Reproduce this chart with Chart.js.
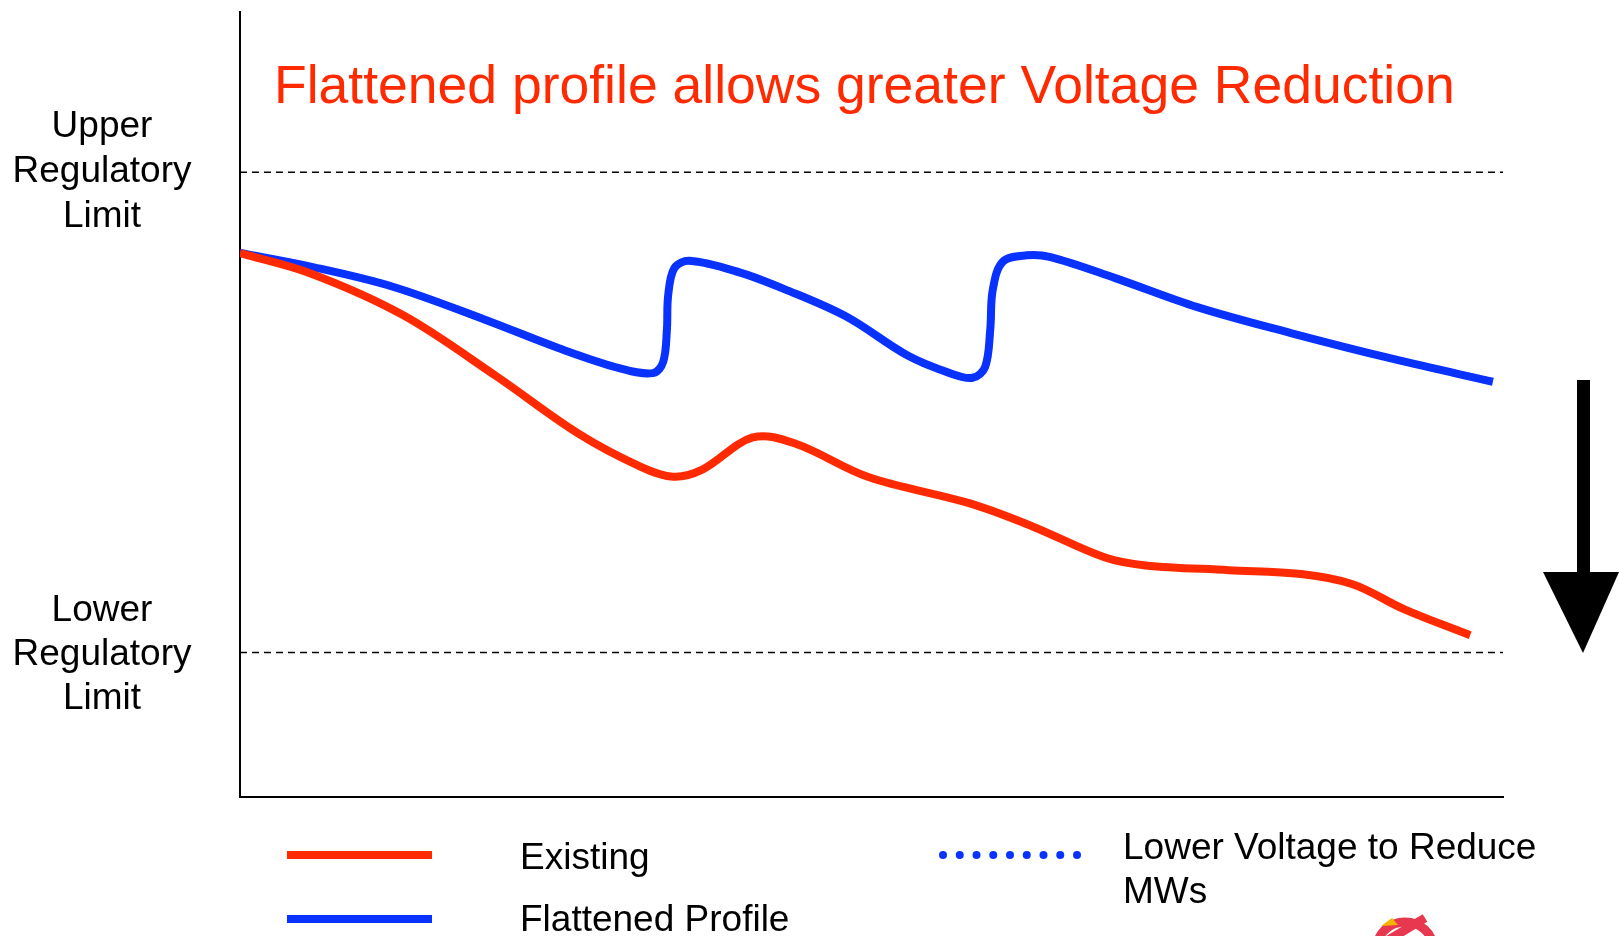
<!DOCTYPE html>
<html>
<head>
<meta charset="utf-8">
<script src="https://cdn.jsdelivr.net/npm/chart.js@4/dist/chart.umd.min.js"></script>
<style>
    html, body { margin: 0; padding: 0; background: #fff; }
    #wrap { width: 1619px; height: 936px; position: relative; }
</style>
</head>
<body>
<div id="wrap"><canvas id="perfilChart"></canvas></div>
<script>
        // ── Dados (posição ao longo do alimentador 0–100, tensão relativa 0–100) ──
        const existenteX = [0, 5.6, 12.9, 20.3, 26.8, 31.7, 34.3, 36.6, 40.6, 44.0, 49.7, 57.8, 62.7, 68.5, 71.7, 78.3, 84.0, 88.1, 92.2, 97.4];
        const existenteY = [69.3, 66.7, 61.4, 53.6, 46.3, 42.1, 40.8, 41.7, 45.8, 45.0, 40.8, 37.4, 34.5, 30.5, 29.5, 28.9, 28.4, 27.1, 23.9, 20.6];

        const planoX = [0, 5.5, 12.1, 19.4, 25.2, 30.1, 32.7, 33.5, 33.8, 33.9, 34.4, 35.6, 39.6, 43.1, 48.0, 52.9, 56.2, 58.0, 59.0, 59.4, 59.6, 60.4, 62.3, 64.1, 69.3, 75.8, 83.2, 91.3, 99.2];
        const planoY = [69.3, 67.6, 65.0, 60.8, 57.2, 54.6, 54.0, 55.4, 59.5, 63.9, 67.4, 68.3, 66.8, 64.7, 61.2, 56.2, 54.0, 53.4, 54.8, 59.5, 64.6, 68.2, 69.0, 68.8, 66.1, 62.4, 59.1, 55.8, 52.9];

        const limiteSuperior = 79.6;
        const limiteInferior = 18.4;

        const titulo = 'Flattened profile allows greater Voltage Reduction';
        const rotuloSuperior = ['Upper', 'Regulatory', 'Limit'];
        const rotuloInferior = ['Lower', 'Regulatory', 'Limit'];
        const legendaTextos = ['Existing', 'Flattened Profile', ['Lower Voltage to Reduce', 'MWs']];

        const VERMELHO = '#ff2a00';
        const AZUL = '#0a32ff';
        const FONTE = '"Liberation Sans", Arial, sans-serif';

        const pontos = (xs, ys) => xs.map((x, i) => ({ x, y: ys[i] }));

        // ── Textos, legenda e seta desenhados por cima ──
        const extras = {
            id: 'extras',
            afterDraw(chart) {
                const ctx = chart.ctx;
                ctx.save();

                // título
                ctx.fillStyle = VERMELHO;
                ctx.font = '53.5px ' + FONTE;
                ctx.textAlign = 'left';
                ctx.textBaseline = 'alphabetic';
                ctx.fillText(titulo, 274, 103);

                // rótulos dos limites
                ctx.fillStyle = '#000';
                ctx.font = '37px ' + FONTE;
                ctx.textAlign = 'center';
                [137, 182, 227].forEach((y, i) => ctx.fillText(rotuloSuperior[i], 102, y));
                [621, 665, 709].forEach((y, i) => ctx.fillText(rotuloInferior[i], 102, y));

                // legenda
                ctx.lineCap = 'butt';
                ctx.lineWidth = 8;
                ctx.strokeStyle = VERMELHO;
                ctx.beginPath(); ctx.moveTo(287, 855); ctx.lineTo(432, 855); ctx.stroke();
                ctx.strokeStyle = AZUL;
                ctx.beginPath(); ctx.moveTo(287, 919); ctx.lineTo(432, 919); ctx.stroke();
                ctx.fillStyle = AZUL;
                for (let i = 0; i < 9; i++) {
                    ctx.beginPath();
                    ctx.arc(943 + i * 16.75, 855, 4, 0, Math.PI * 2);
                    ctx.fill();
                }
                ctx.fillStyle = '#000';
                ctx.textAlign = 'left';
                ctx.fillText(legendaTextos[0], 520, 869);
                ctx.fillText(legendaTextos[1], 520, 931);
                ctx.fillText(legendaTextos[2][0], 1123, 859);
                ctx.fillText(legendaTextos[2][1], 1123, 903);

                // seta para baixo
                ctx.fillStyle = '#000';
                ctx.fillRect(1577, 380, 13, 195);
                ctx.beginPath();
                ctx.moveTo(1543, 572);
                ctx.lineTo(1619, 572);
                ctx.lineTo(1583, 653);
                ctx.closePath();
                ctx.fill();

                // pedaço do logotipo cortado no rodapé
                ctx.strokeStyle = '#e8384f';
                ctx.lineWidth = 9;
                ctx.beginPath();
                ctx.ellipse(1405, 948, 28, 26, 0, Math.PI, Math.PI * 2);
                ctx.stroke();
                ctx.beginPath();
                ctx.moveTo(1380, 945); ctx.lineTo(1425, 918);
                ctx.stroke();
                ctx.fillStyle = '#f7b500';
                ctx.beginPath();
                ctx.moveTo(1381, 926); ctx.lineTo(1392, 918); ctx.lineTo(1398, 925); ctx.closePath();
                ctx.fill();

                ctx.restore();
            }
        };

        // ── Gráfico ──
        new Chart(document.getElementById('perfilChart'), {
            type: 'line',
            data: {
                datasets: [
                    {
                        label: 'Upper Regulatory Limit',
                        data: [{ x: 0, y: limiteSuperior }, { x: 100, y: limiteSuperior }],
                        borderColor: '#000', borderWidth: 1.5, borderDash: [7, 5], pointRadius: 0, tension: 0
                    },
                    {
                        label: 'Lower Regulatory Limit',
                        data: [{ x: 0, y: limiteInferior }, { x: 100, y: limiteInferior }],
                        borderColor: '#000', borderWidth: 1.5, borderDash: [7, 5], pointRadius: 0, tension: 0
                    },
                    {
                        label: 'Existing',
                        data: pontos(existenteX, existenteY),
                        borderColor: VERMELHO, borderWidth: 8, pointRadius: 0, tension: 0.35, borderCapStyle: 'butt'
                    },
                    {
                        label: 'Flattened Profile',
                        data: pontos(planoX, planoY),
                        borderColor: AZUL, borderWidth: 8, pointRadius: 0, tension: 0.35, borderCapStyle: 'butt'
                    },
                    {
                        label: 'Lower Voltage to Reduce MWs',
                        data: pontos(planoX, planoY),
                        borderColor: AZUL, borderWidth: 7, pointRadius: 0, tension: 0.35,
                        borderCapStyle: 'round', borderDash: [0.5, 16.5]
                    }
                ]
            },
            options: {
                responsive: true,
                maintainAspectRatio: false,
                animation: false,
                layout: { padding: { left: 240, right: 116, top: 12, bottom: 139 } },
                plugins: { legend: { display: false }, tooltip: { enabled: false } },
                scales: {
                    x: {
                        type: 'linear', min: 0, max: 100,
                        grid: { display: false, drawTicks: false },
                        ticks: { display: false },
                        border: { color: '#000', width: 2 }
                    },
                    y: {
                        min: 0, max: 100,
                        grid: { display: false, drawTicks: false },
                        ticks: { display: false },
                        border: { color: '#000', width: 2 }
                    }
                }
            },
            plugins: [extras]
        });
</script>
</body>
</html>
